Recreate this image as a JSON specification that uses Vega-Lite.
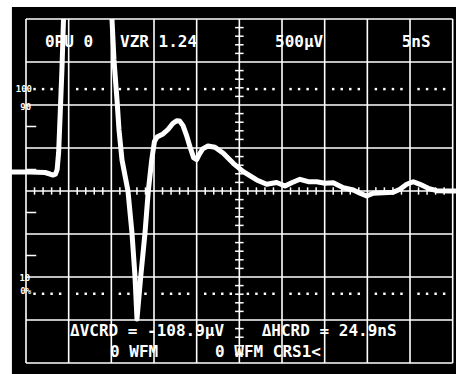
{
  "$schema": "https://vega.github.io/schema/vega-lite/v6.json",
  "width": 456,
  "height": 374,
  "autosize": "none",
  "padding": 0,
  "background": "white",
  "config": {"view": {"stroke": null}},
  "datasets": {
    "bg": [{"x": -0.33, "x2": 10.2, "y": -4.4, "y2": 4.28}],
    "vgrid": [{"x": 0}, {"x": 1}, {"x": 2}, {"x": 3}, {"x": 4}, {"x": 5}, {"x": 6}, {"x": 7}, {"x": 8}, {"x": 9}, {"x": 10}],
    "hgrid": [{"y": -4}, {"y": -3}, {"y": -2}, {"y": -1}, {"y": 0}, {"y": 1}, {"y": 2}, {"y": 3}, {"y": 4}],
    "minorx": [{"x": 0.2}, {"x": 0.4}, {"x": 0.6}, {"x": 0.8}, {"x": 1.2}, {"x": 1.4}, {"x": 1.6}, {"x": 1.8}, {"x": 2.2}, {"x": 2.4}, {"x": 2.6}, {"x": 2.8}, {"x": 3.2}, {"x": 3.4}, {"x": 3.6}, {"x": 3.8}, {"x": 4.2}, {"x": 4.4}, {"x": 4.6}, {"x": 4.8}, {"x": 5.2}, {"x": 5.4}, {"x": 5.6}, {"x": 5.8}, {"x": 6.2}, {"x": 6.4}, {"x": 6.6}, {"x": 6.8}, {"x": 7.2}, {"x": 7.4}, {"x": 7.6}, {"x": 7.8}, {"x": 8.2}, {"x": 8.4}, {"x": 8.6}, {"x": 8.8}, {"x": 9.2}, {"x": 9.4}, {"x": 9.6}, {"x": 9.8}],
    "minory": [{"y": -3.8}, {"y": -3.6}, {"y": -3.4}, {"y": -3.2}, {"y": -2.8}, {"y": -2.6}, {"y": -2.4}, {"y": -2.2}, {"y": -1.8}, {"y": -1.6}, {"y": -1.4}, {"y": -1.2}, {"y": -0.8}, {"y": -0.6}, {"y": -0.4}, {"y": -0.2}, {"y": 0.2}, {"y": 0.4}, {"y": 0.6}, {"y": 0.8}, {"y": 1.2}, {"y": 1.4}, {"y": 1.6}, {"y": 1.8}, {"y": 2.2}, {"y": 2.4}, {"y": 2.6}, {"y": 2.8}, {"y": 3.2}, {"y": 3.4}, {"y": 3.6}, {"y": 3.8}],
    "leftticks": [{"y": -1.5}, {"y": -0.5}, {"y": 0.5}, {"y": 1.5}],
    "labels": [
      {"t": "100", "x": 0.14, "y": 2.37},
      {"t": "90", "x": 0.12, "y": 1.965},
      {"t": "10", "x": 0.1, "y": -2.016},
      {"t": "0%", "x": 0.12, "y": -2.314}
    ],
    "texts": [
      {"t": "0PU 0", "x": 0.445, "y": 3.458},
      {"t": "VZR 1.24", "x": 2.203, "y": 3.458},
      {"t": "500μV", "x": 5.836, "y": 3.458},
      {"t": "5nS", "x": 8.805, "y": 3.458},
      {"t": "ΔVCRD = -108.9μV", "x": 1.031, "y": -3.267},
      {"t": "ΔHCRD = 24.9nS", "x": 5.524, "y": -3.267},
      {"t": "0 WFM", "x": 1.969, "y": -3.744},
      {"t": "0 WFM CRS1<", "x": 4.429, "y": -3.744}
    ],
    "trace": [
      {"s": "a", "x": -0.352, "y": 0.442},
      {"s": "a", "x": 0.094, "y": 0.442},
      {"s": "a", "x": 0.445, "y": 0.43},
      {"s": "a", "x": 0.562, "y": 0.395},
      {"s": "a", "x": 0.633, "y": 0.372},
      {"s": "a", "x": 0.69, "y": 0.39},
      {"s": "a", "x": 0.73, "y": 0.5},
      {"s": "a", "x": 0.765, "y": 0.9},
      {"s": "a", "x": 0.805, "y": 1.884},
      {"s": "a", "x": 0.842, "y": 2.814},
      {"s": "a", "x": 0.879, "y": 4.0},
      {"s": "b", "x": 2.015, "y": 4.0},
      {"s": "b", "x": 2.062, "y": 3.047},
      {"s": "b", "x": 2.133, "y": 2.116},
      {"s": "b", "x": 2.18, "y": 1.419},
      {"s": "b", "x": 2.25, "y": 0.721},
      {"s": "b", "x": 2.39, "y": 0.0},
      {"s": "b", "x": 2.484, "y": -0.977},
      {"s": "b", "x": 2.555, "y": -2.0},
      {"s": "b", "x": 2.601, "y": -2.977},
      {"s": "b", "x": 2.688, "y": -2.0},
      {"s": "b", "x": 2.789, "y": -0.977},
      {"s": "b", "x": 2.866, "y": 0.0},
      {"s": "b", "x": 2.946, "y": 0.721},
      {"s": "b", "x": 3.01, "y": 1.15},
      {"s": "b", "x": 3.07, "y": 1.256},
      {"s": "b", "x": 3.211, "y": 1.326},
      {"s": "b", "x": 3.328, "y": 1.43},
      {"s": "b", "x": 3.44, "y": 1.57},
      {"s": "b", "x": 3.53, "y": 1.635},
      {"s": "b", "x": 3.6, "y": 1.63},
      {"s": "b", "x": 3.68, "y": 1.52},
      {"s": "b", "x": 3.76, "y": 1.3},
      {"s": "b", "x": 3.843, "y": 1.03},
      {"s": "b", "x": 3.93, "y": 0.77},
      {"s": "b", "x": 4.0, "y": 0.73},
      {"s": "b", "x": 4.06, "y": 0.85},
      {"s": "b", "x": 4.14, "y": 0.98},
      {"s": "b", "x": 4.265, "y": 1.047},
      {"s": "b", "x": 4.429, "y": 1.016},
      {"s": "b", "x": 4.624, "y": 0.877},
      {"s": "b", "x": 4.858, "y": 0.644},
      {"s": "b", "x": 5.093, "y": 0.449},
      {"s": "b", "x": 5.407, "y": 0.256},
      {"s": "b", "x": 5.641, "y": 0.156},
      {"s": "b", "x": 5.875, "y": 0.198},
      {"s": "b", "x": 6.07, "y": 0.116},
      {"s": "b", "x": 6.227, "y": 0.193},
      {"s": "b", "x": 6.421, "y": 0.272},
      {"s": "b", "x": 6.616, "y": 0.216},
      {"s": "b", "x": 6.813, "y": 0.216},
      {"s": "b", "x": 7.007, "y": 0.179},
      {"s": "b", "x": 7.202, "y": 0.193},
      {"s": "b", "x": 7.436, "y": 0.077},
      {"s": "b", "x": 7.671, "y": 0.023},
      {"s": "b", "x": 7.828, "y": -0.053},
      {"s": "b", "x": 7.984, "y": -0.116},
      {"s": "b", "x": 8.14, "y": -0.053},
      {"s": "b", "x": 8.374, "y": -0.04},
      {"s": "b", "x": 8.608, "y": -0.03},
      {"s": "b", "x": 8.765, "y": 0.04},
      {"s": "b", "x": 8.922, "y": 0.156},
      {"s": "b", "x": 9.077, "y": 0.216},
      {"s": "b", "x": 9.234, "y": 0.156},
      {"s": "b", "x": 9.428, "y": 0.063},
      {"s": "b", "x": 9.625, "y": 0.007},
      {"s": "b", "x": 9.937, "y": 0.0},
      {"s": "b", "x": 10.077, "y": 0.0}
    ]
  },
  "layer": [
    {
      "data": {"name": "bg"},
      "mark": {"type": "rect", "color": "black"},
      "encoding": {
        "x": {"field": "x", "type": "quantitative", "scale": {"domain": [-0.6094, 10.0778], "nice": false, "zero": false}, "axis": null},
        "x2": {"field": "x2"},
        "y": {"field": "y", "type": "quantitative", "scale": {"domain": [-4.2558, 4.4419], "nice": false, "zero": false}, "axis": null},
        "y2": {"field": "y2"}
      }
    },
    {
      "data": {"name": "vgrid"},
      "mark": {"type": "rule", "color": "white", "strokeWidth": 1.6},
      "encoding": {
        "x": {"field": "x", "type": "quantitative"},
        "y": {"datum": -4, "type": "quantitative"},
        "y2": {"datum": 4}
      }
    },
    {
      "data": {"name": "hgrid"},
      "mark": {"type": "rule", "color": "white", "strokeWidth": 1.6},
      "encoding": {
        "y": {"field": "y", "type": "quantitative"},
        "x": {"datum": 0, "type": "quantitative"},
        "x2": {"datum": 10}
      }
    },
    {
      "data": {"name": "minorx"},
      "mark": {"type": "rule", "color": "white", "strokeWidth": 1.5},
      "encoding": {
        "x": {"field": "x", "type": "quantitative"},
        "y": {"datum": -0.085, "type": "quantitative"},
        "y2": {"datum": 0.085}
      }
    },
    {
      "data": {"name": "minory"},
      "mark": {"type": "rule", "color": "white", "strokeWidth": 1.5},
      "encoding": {
        "y": {"field": "y", "type": "quantitative"},
        "x": {"datum": 4.9, "type": "quantitative"},
        "x2": {"datum": 5.1}
      }
    },
    {
      "data": {"name": "leftticks"},
      "mark": {"type": "rule", "color": "white", "strokeWidth": 1.5},
      "encoding": {
        "y": {"field": "y", "type": "quantitative"},
        "x": {"datum": 0, "type": "quantitative"},
        "x2": {"datum": 0.24}
      }
    },
    {
      "data": {"name": "minorx"},
      "mark": {"type": "square", "color": "white", "filled": true, "size": 6, "opacity": 1},
      "encoding": {
        "x": {"field": "x", "type": "quantitative"},
        "y": {"datum": 2.37, "type": "quantitative"}
      }
    },
    {
      "data": {"name": "minorx"},
      "mark": {"type": "square", "color": "white", "filled": true, "size": 6, "opacity": 1},
      "encoding": {
        "x": {"field": "x", "type": "quantitative"},
        "y": {"datum": -2.39, "type": "quantitative"}
      }
    },
    {
      "data": {"name": "labels"},
      "mark": {"type": "text", "color": "white", "font": "DejaVu Sans Mono", "fontWeight": "bold", "fontSize": 9, "align": "right", "baseline": "middle"},
      "encoding": {
        "x": {"field": "x", "type": "quantitative"},
        "y": {"field": "y", "type": "quantitative"},
        "text": {"field": "t"}
      }
    },
    {
      "data": {"name": "texts"},
      "mark": {"type": "text", "color": "white", "font": "DejaVu Sans Mono", "fontWeight": "bold", "fontSize": 16, "align": "left", "baseline": "middle"},
      "encoding": {
        "x": {"field": "x", "type": "quantitative"},
        "y": {"field": "y", "type": "quantitative"},
        "text": {"field": "t"}
      }
    },
    {
      "data": {"name": "trace"},
      "mark": {"type": "line", "color": "white", "strokeWidth": 5, "interpolate": "linear", "strokeCap": "butt", "strokeJoin": "round"},
      "encoding": {
        "x": {"field": "x", "type": "quantitative"},
        "y": {"field": "y", "type": "quantitative"},
        "detail": {"field": "s"}
      }
    }
  ]
}
